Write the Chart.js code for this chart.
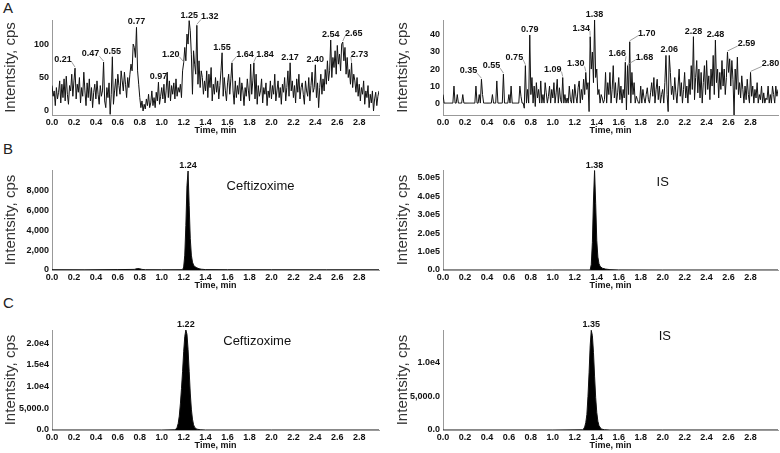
<!DOCTYPE html>
<html>
<head>
<meta charset="utf-8">
<script src="https://cdn.jsdelivr.net/npm/chart.js@4.4.1/dist/chart.umd.min.js"></script>
<style>
  body { margin: 0; background: #fff; width: 780px; height: 453px; overflow: hidden; position: relative; font-family: Arial, "Liberation Sans", sans-serif; }
  canvas { position: absolute; }
  .tag { position: absolute; font-size: 15px; line-height: 15px; color: #222; }
</style>
</head>
<body>
<div class="tag" style="left:3px;top:0px">A</div>
<div class="tag" style="left:3px;top:141px">B</div>
<div class="tag" style="left:3px;top:295px">C</div>
<canvas id="a1" width="382" height="140" style="left:0;top:0"></canvas>
<canvas id="a2" width="390" height="140" style="left:390px;top:0"></canvas>
<canvas id="b1" width="382" height="145" style="left:0;top:150px"></canvas>
<canvas id="b2" width="390" height="145" style="left:390px;top:150px"></canvas>
<canvas id="c1" width="382" height="145" style="left:0;top:310px"></canvas>
<canvas id="c2" width="390" height="145" style="left:390px;top:310px"></canvas>
<script>
// x axis ticks (min)
const timeTicks = [0.0, 0.2, 0.4, 0.6, 0.8, 1.0, 1.2, 1.4, 1.6, 1.8, 2.0, 2.2, 2.4, 2.6, 2.8];

// A: blank, sampled every 0.01 min
const blankStep = 0.01;
const blankAnalyte = [
  38, 22, 30, 8, 35, 18, 28, 45, 12, 40,
  20, 48, 15, 52, 25, 10, 38, 30, 55, 22,
  45, 64, 18, 40, 28, 50, 12, 35, 22, 58,
  30, 8, 42, 20, 48, 15, 35, 5, 28, 40,
  18, 45, 25, 10, 38, 22, 30, 73, 15, 5,
  35, 20, 42, -5, 25, 81, 10, 30, 48, 22,
  55, 38, 25, 60, 45, 30, 58, 40, 20, 50,
  35, 55, 70, 60, 100, 95, 80, 125, 60, 40,
  20, 5, 15, 0, 10, 3, 18, 8, 25, 5,
  12, 30, 8, 20, 5, 28, 15, 43, 10, 22,
  35, 18, 40, 12, 30, 58, 20, 45, 15, 38,
  25, 42, 18, 48, 22, 35, 28, 40, 20, 60,
  72, 95, 75, 115, 100, 135, 120, 85, 25, 90,
  70, 55, 128, 40, 75, 35, 60, 50, 25, 45,
  30, 60, 20, 55, 35, 65, 15, 40, 25, 50,
  28, 45, 18, 38, 60, 87, 22, 50, 30, 15,
  42, 55, 25, 48, 72, 30, 10, 45, 20, 38,
  25, 50, 15, 42, 30, 8, 35, 22, 48, 30,
  15, 70, 25, 45, 72, 18, 55, 10, 38, 22,
  30, 48, 12, 35, 25, 42, 8, 30, 20, 45,
  18, 38, 25, 55, 15, 30, 45, 20, 35, 10,
  40, 28, 50, 15, 35, 60, 22, 72, 30, 45,
  20, 38, 12, 48, 28, 55, 18, 35, 42, 25,
  10, 45, 30, 22, 50, 15, 38, 58, 28, 35,
  69, 20, 42, 5, 35, 55, 25, 48, 30, 62,
  40, 75, 45, 60, 106, 50, 80, 65, 90, 55,
  98, 70, 85, 60, 100, 103, 75, 95, 55, 80,
  50, 62, 40, 72, 35, 55, 45, 28, 50, 22,
  40, 15, 35, 25, 45, 10, 30, 20, 38, 5,
  25, 12, 30, 0, 18, 28, 8, 22, 30
];
const blankIS = [
  5, 0, 0, 0, 0, 0, 0, 0, 0, 0,
  10, 0, 0, 5, 0, 0, 0, 0, 5, 0,
  0, 0, 0, 0, 0, 0, 0, 0, 0, 0,
  10, 0, 0, 5, 0, 14, 5, 0, 0, 0,
  0, 0, 0, 0, 0, 5, 0, 0, 0, 13,
  0, 0, 0, 0, 0, 17, 0, 0, 0, 0,
  5, 0, 10, 0, 0, 0, 0, 0, 0, 0,
  10, 4, 0, 0, -3, 22, 0, 8, 0, 40,
  5, 15, 0, 10, -2, 12, 3, 8, 0, 13,
  0, 5, 0, 12, 6, 0, 4, 10, 0, 8,
  3, 12, 0, 6, 14, 0, 9, 2, 0, 15,
  0, 5, 0, 3, 0, 10, 2, 0, 8, 0,
  11, 4, 0, 9, 13, 0, 8, 2, 14, 5,
  18, 8, 12, -5, 39, 20, 30, 12, 49, 15,
  20, 5, 8, 0, 5, 3, 0, 2, 18, 0,
  12, 5, 18, 0, 8, 22, 3, 12, 0, 6,
  15, 2, 10, 0, 8, 3, 24, -4, 22, 5,
  36, 0, 18, 5, 12, 0, 4, 2, 0, 0,
  10, 0, 8, 3, 0, 5, 9, 2, 0, 6,
  12, 4, 15, 0, 8, 14, 2, 10, 0, 5,
  8, 0, 12, 28, 5, -5, 28, 18, 5, 10,
  2, 15, 6, 0, 10, 20, 4, 12, 0, 8,
  18, 3, 10, 0, 14, 5, 22, 8, 39, 2,
  15, 25, 6, 20, 3, 18, 0, 12, 22, 5,
  25, 8, 16, 2, 20, 10, 28, 5, 37, 12,
  20, 3, 18, 8, 25, 10, 20, 5, 15, 30,
  18, 26, 10, 25, 14, -7, 20, 8, 27, 5,
  12, 3, 16, 8, 0, 10, 2, 14, 5, 0,
  18, 4, 10, 0, 8, 3, 12, 0, 5, 2,
  10, 0, 6, 0, 3, 2, 10, 0, 5, 0,
  10, 5, 0, 10, 4, 8
];

// B: LLOQ sample
const lloqAnalyteTimes = [0, 0.3, 0.6, 0.75, 0.78, 0.80, 0.82, 0.85, 1.0, 1.19, 1.20, 1.21, 1.22, 1.23, 1.24, 1.25, 1.26, 1.27, 1.28, 1.29, 1.30, 1.32, 1.34, 1.36, 1.40, 1.6, 2.0, 2.5, 2.98];
const lloqAnalyte = [30, 20, 40, 60, 150, 120, 60, 30, 25, 30, 300, 1500, 4500, 8500, 10000, 6500, 3200, 1500, 800, 500, 350, 220, 130, 80, 40, 30, 25, 20, 20];
const lloqISTimes = [0, 1.0, 1.34, 1.35, 1.36, 1.37, 1.38, 1.39, 1.40, 1.41, 1.42, 1.43, 1.45, 1.48, 1.52, 1.6, 2.0, 3.05];
const lloqIS = [0, 0, 0, 30000, 150000, 380000, 540000, 360000, 160000, 70000, 35000, 20000, 10000, 5000, 2000, 500, 0, 0];

// C: plasma sample
const plasmaAnalyteTimes = [0, 1.0, 1.12, 1.13, 1.14, 1.15, 1.16, 1.17, 1.18, 1.19, 1.20, 1.21, 1.22, 1.23, 1.24, 1.25, 1.26, 1.27, 1.28, 1.29, 1.30, 1.32, 1.35, 1.40, 2.0, 2.98];
const plasmaAnalyte = [0, 0, 50, 200, 600, 1500, 3200, 6000, 9500, 13500, 18000, 21500, 23000, 22000, 18500, 13500, 8500, 4800, 2500, 1200, 600, 200, 60, 0, 0, 0];
const plasmaISTimes = [0, 1.0, 1.27, 1.28, 1.29, 1.30, 1.31, 1.32, 1.33, 1.34, 1.35, 1.36, 1.37, 1.38, 1.39, 1.40, 1.41, 1.42, 1.44, 1.47, 1.52, 2.0, 3.05];
const plasmaIS = [0, 0, 30, 150, 450, 1100, 2300, 5000, 8500, 12500, 14800, 14000, 11500, 8000, 4800, 2600, 1300, 650, 150, 40, 0, 0, 0];

// peak annotations
const blankAnalytePeaks = ['0.21', '0.47', '0.55', '0.77', '0.97', '1.20', '1.25', '1.32', '1.55', '1.64', '1.84', '2.17', '2.40', '2.54', '2.65', '2.73'];
const blankISPeaks = ['0.35', '0.55', '0.75', '0.79', '1.09', '1.30', '1.34', '1.38', '1.66', '1.70', '1.68', '2.06', '2.28', '2.48', '2.59', '2.80'];

// y ticks per panel
const yTicksA1 = [0, 50, 100];
const yTicksA2 = [0, 10, 20, 30, 40];
const yTicksB1 = [0, 2000, 4000, 6000, 8000];
const yLabelsB1 = ['0', '2,000', '4,000', '6,000', '8,000'];
const yTicksB2 = [0, 100000, 200000, 300000, 400000, 500000];
const yLabelsB2 = ['0.0', '1.0e5', '2.0e5', '3.0e5', '4.0e5', '5.0e5'];
const yTicksC1 = [0, 5000, 10000, 15000, 20000];
const yLabelsC1 = ['0.0', '5,000.0', '1.0e4', '1.5e4', '2.0e4'];
const yTicksC2 = [0, 5000, 10000];
const yLabelsC2 = ['0.0', '5,000.0', '1.0e4'];

const TICK_FONT = { family: 'Arial, "Liberation Sans", sans-serif', size: 9, weight: 'bold' };

function toPoints(times, values) {
  return values.map((v, i) => ({ x: times[i], y: v }));
}
function sampled(values, step) {
  return values.map((v, i) => ({ x: +(i * step).toFixed(2), y: v }));
}

// draws peak retention-time labels and compound names
const peakText = {
  id: 'peakText',
  afterDatasetsDraw(chart, args, opts) {
    const { ctx, chartArea, scales: { x, y } } = chart;
    const pts = chart.data.datasets[0].data;
    ctx.save();
    ctx.font = 'bold 9px Arial, "Liberation Sans", sans-serif';
    ctx.fillStyle = '#111';
    ctx.textAlign = 'center';
    ctx.textBaseline = 'bottom';
    (opts.labels || []).forEach((txt, i) => {
      const t = parseFloat(txt);
      let best = pts[0];
      pts.forEach(p => { if (Math.abs(p.x - t) < Math.abs(best.x - t)) best = p; });
      if (opts.peakMax) {
        pts.forEach(p => { if (p.y > best.y) best = p; });
      }
      const px = x.getPixelForValue(best.x);
      const py = y.getPixelForValue(best.y);
      const dx = (opts.dx || [])[i] || 0;
      const lx = px + dx;
      const ly = dx ? py - 4 : py - 1;
      ctx.fillText(txt, lx, ly);
      if (dx) {
        const w = ctx.measureText(txt).width;
        const ex = dx < 0 ? lx + w / 2 : lx - w / 2;
        ctx.strokeStyle = '#888';
        ctx.lineWidth = 0.8;
        ctx.beginPath();
        ctx.moveTo(ex, ly - 2);
        ctx.lineTo(px, py - 1);
        ctx.stroke();
      }
    });
    if (opts.name) {
      ctx.font = '13px Arial, "Liberation Sans", sans-serif';
      ctx.fillStyle = '#111';
      ctx.textBaseline = 'middle';
      ctx.fillText(opts.name.text, x.getPixelForValue(opts.name.t), chartArea.top + opts.name.dy);
    }
    ctx.restore();
  }
};

function makePanel(id, cfg) {
  const right = cfg.side === 'right';
  new Chart(document.getElementById(id), {
    type: 'line',
    data: {
      datasets: [{
        data: cfg.points,
        borderColor: '#111',
        borderWidth: 1,
        backgroundColor: '#000',
        fill: cfg.fill ? 'origin' : false,
        pointRadius: 0,
        tension: 0
      }]
    },
    plugins: [peakText],
    options: {
      responsive: false,
      animation: false,
      devicePixelRatio: 1,
      layout: { padding: { left: right ? 2 : 0, right: right ? 2 : 3, top: 20, bottom: 0 } },
      plugins: {
        legend: { display: false },
        tooltip: { enabled: false },
        peakText: { labels: cfg.labels, dx: cfg.dx, name: cfg.name, peakMax: cfg.peakMax }
      },
      scales: {
        x: {
          type: 'linear',
          min: 0,
          max: right ? 3.05 : 2.98,
          afterBuildTicks: s => { s.ticks = timeTicks.map(v => ({ value: v })); },
          afterFit: s => { s.height = cfg.xHeight; },
          grid: { display: false, drawTicks: false },
          border: { display: true, color: '#999', width: 1 },
          ticks: { font: TICK_FONT, color: '#111', padding: 2, maxRotation: 0, autoSkip: false,
                   callback: v => v.toFixed(1) },
          title: { display: true, text: 'Time, min', font: TICK_FONT, color: '#111', padding: { top: 0, bottom: 4 } }
        },
        y: {
          min: cfg.yMin,
          max: cfg.yMax,
          afterBuildTicks: s => { s.ticks = cfg.yTicks.map(v => ({ value: v })); },
          afterFit: s => { s.width = right ? 51 : 52; },
          grid: { display: false, drawTicks: false },
          border: { display: true, color: '#999', width: 1 },
          ticks: { font: TICK_FONT, color: '#111', padding: 3, autoSkip: false,
                   callback: (v, i) => cfg.yLabels ? cfg.yLabels[i] : String(v) },
          title: { display: true, text: 'Intentsity, cps', color: '#333',
                   font: { family: 'Arial, "Liberation Sans", sans-serif', size: 15 },
                   padding: { top: 2, bottom: 0 } }
        }
      }
    }
  });
}

makePanel('a1', {
  side: 'left', points: sampled(blankAnalyte, blankStep), yMin: -6, yMax: 136,
  yTicks: yTicksA1, xHeight: 25, labels: blankAnalytePeaks,
  dx: [-12, -13, 0, 0, 0, -13, 0, 13, 0, 13, 11, 0, 0, 0, 11, 8]
});
makePanel('a2', {
  side: 'right', points: sampled(blankIS, blankStep), yMin: -7, yMax: 48.8,
  yTicks: yTicksA2, xHeight: 25, labels: blankISPeaks,
  dx: [-13, -12, -11, 0, -10, -10, -9, 0, -8, 17, 17, 0, 0, 0, 19, 20]
});
makePanel('b1', {
  side: 'left', points: toPoints(lloqAnalyteTimes, lloqAnalyte), fill: true, yMin: 0, yMax: 10100,
  yTicks: yTicksB1, yLabels: yLabelsB1, xHeight: 25, labels: ['1.24'], peakMax: true,
  name: { text: 'Ceftizoxime', t: 1.9, dy: 16 }
});
makePanel('b2', {
  side: 'right', points: toPoints(lloqISTimes, lloqIS), fill: true, yMin: 0, yMax: 543000,
  yTicks: yTicksB2, yLabels: yLabelsB2, xHeight: 25, labels: ['1.38'], peakMax: true,
  name: { text: 'IS', t: 2.0, dy: 12 }
});
makePanel('c1', {
  side: 'left', points: toPoints(plasmaAnalyteTimes, plasmaAnalyte), fill: true, yMin: 0, yMax: 23000,
  yTicks: yTicksC1, yLabels: yLabelsC1, xHeight: 25, labels: ['1.22'], peakMax: true,
  name: { text: 'Ceftizoxime', t: 1.87, dy: 11 }
});
makePanel('c2', {
  side: 'right', points: toPoints(plasmaISTimes, plasmaIS), fill: true, yMin: 0, yMax: 14850,
  yTicks: yTicksC2, yLabels: yLabelsC2, xHeight: 25, labels: ['1.35'], peakMax: true,
  name: { text: 'IS', t: 2.02, dy: 6 }
});
</script>
</body>
</html>
